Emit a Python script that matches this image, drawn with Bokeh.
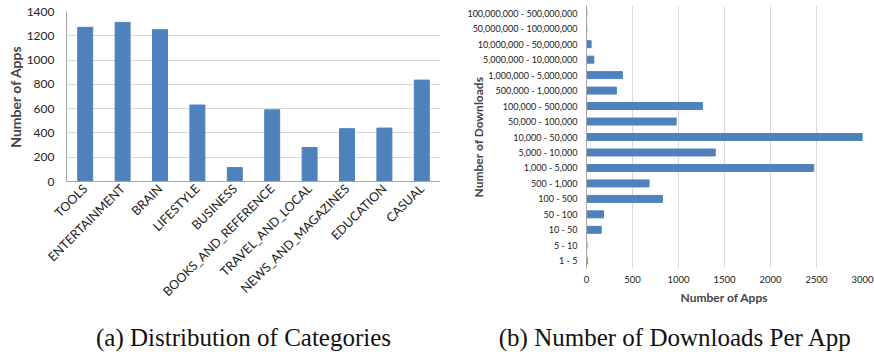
from bokeh.plotting import figure
from bokeh.layouts import row, column
from bokeh.models import Label, FactorRange, Range1d
from bokeh.embed import file_html
from bokeh.resources import INLINE

categories = ["TOOLS", "ENTERTAINMENT", "BRAIN", "LIFESTYLE", "BUSINESS",
              "BOOKS_AND_REFERENCE", "TRAVEL_AND_LOCAL", "NEWS_AND_MAGAZINES",
              "EDUCATION", "CASUAL"]
category_counts = [1270, 1310, 1250, 630, 115, 590, 280, 435, 440, 835]

download_bins = ["1 - 5", "5 - 10", "10 - 50", "50 - 100", "100 - 500", "500 - 1,000",
                 "1,000 - 5,000", "5,000 - 10,000", "10,000 - 50,000",
                 "50,000 - 100,000", "100,000 - 500,000", "500,000 - 1,000,000",
                 "1,000,000 - 5,000,000", "5,000,000 - 10,000,000",
                 "10,000,000 - 50,000,000", "50,000,000 - 100,000,000",
                 "100,000,000 - 500,000,000"]
download_counts = [8, 5, 160, 185, 825, 680, 2470, 1400, 3000, 975, 1260, 325, 390, 80, 50, 3, 3]

captions = ["(a) Distribution of Categories", "(b) Number of Downloads Per App"]

BLUE = "#4F81BD"
GRID = "#D9D9D9"
AXIS = "#A6A6A6"
FONT = "Lato"
CAPFONT = "Liberation Serif"

# ---- left chart ----
p1 = figure(x_range=FactorRange(*categories), y_range=Range1d(0, 1400),
            width=440, height=314, output_backend="svg", toolbar_location=None,
            min_border_left=66, min_border_right=0, min_border_top=11, min_border_bottom=133)
p1.vbar(x=categories, top=category_counts, width=0.4, color=BLUE)
p1.outline_line_color = None
p1.xgrid.grid_line_color = None
p1.ygrid.grid_line_color = GRID
p1.yaxis.ticker = [0, 200, 400, 600, 800, 1000, 1200, 1400]
p1.yaxis.axis_label = "Number of Apps"
p1.yaxis.axis_label_text_font = FONT
p1.yaxis.axis_label_text_font_style = "bold"
p1.yaxis.axis_label_text_font_size = "14px"
p1.yaxis.axis_label_standoff = 0
p1.yaxis.major_label_text_font = FONT
p1.yaxis.major_label_text_font_size = "12px"
p1.yaxis.major_label_text_color = "#222222"
p1.yaxis.major_tick_line_color = None
p1.yaxis.major_tick_out = 0
p1.yaxis.minor_tick_line_color = None
p1.yaxis.major_label_standoff = 12
p1.yaxis.axis_line_color = AXIS
p1.xaxis.axis_line_color = AXIS
p1.xaxis.major_tick_line_color = None
p1.xaxis.major_tick_out = 0
p1.xaxis.major_label_orientation = 0.785398
p1.xaxis.major_label_text_font = FONT
p1.xaxis.major_label_text_font_size = "12.5px"
p1.xaxis.major_label_text_color = "#222222"
p1.xaxis.major_label_standoff = 5

# ---- right chart ----
p2 = figure(y_range=FactorRange(*download_bins), x_range=Range1d(0, 3000),
            width=434, height=314, output_backend="svg", toolbar_location=None,
            min_border_left=146, min_border_right=12, min_border_top=5, min_border_bottom=46)
p2.hbar(y=download_bins, right=download_counts, height=0.45, color=BLUE)
p2.outline_line_color = None
p2.ygrid.grid_line_color = None
p2.xgrid.grid_line_color = GRID
p2.xaxis.ticker = [0, 500, 1000, 1500, 2000, 2500, 3000]
p2.xaxis.axis_label = "Number of Apps"
p2.xaxis.axis_label_text_font = FONT
p2.xaxis.axis_label_text_font_style = "bold"
p2.xaxis.axis_label_text_font_size = "12px"
p2.xaxis.axis_label_standoff = 4
p2.xaxis.major_label_text_font = FONT
p2.xaxis.major_label_text_font_size = "9.5px"
p2.xaxis.major_label_text_color = "#222222"
p2.xaxis.major_tick_line_color = None
p2.xaxis.major_tick_out = 0
p2.xaxis.minor_tick_line_color = None
p2.xaxis.axis_line_color = None
p2.xaxis.major_label_standoff = 7
p2.yaxis.axis_line_color = AXIS
p2.yaxis.major_tick_line_color = None
p2.yaxis.major_tick_out = 0
p2.yaxis.axis_label = "Number of Downloads"
p2.yaxis.axis_label_text_font = FONT
p2.yaxis.axis_label_text_font_style = "bold"
p2.yaxis.axis_label_text_font_size = "12px"
p2.yaxis.axis_label_standoff = -22
p2.yaxis.major_label_text_font = FONT
p2.yaxis.major_label_text_font_size = "9px"
p2.yaxis.major_label_text_color = "#222222"
p2.yaxis.major_label_standoff = 9

# ---- captions strip ----
cap = figure(width=874, height=40, x_range=Range1d(0, 874), y_range=Range1d(0, 40),
             output_backend="svg", toolbar_location=None,
             min_border_left=0, min_border_right=0, min_border_top=0, min_border_bottom=0)
cap.axis.visible = False
cap.grid.visible = False
cap.outline_line_color = None
for cx, txt in zip([243, 675], captions):
    cap.add_layout(Label(x=cx, y=17, x_units="screen", y_units="screen", text=txt,
                         text_align="center", text_baseline="middle", text_font=CAPFONT,
                         text_font_size="25px", text_color="#111111"))

layout = column(row(column(p1), column(p2)), row(cap))
open("out.html", "w").write(file_html(layout, INLINE))
